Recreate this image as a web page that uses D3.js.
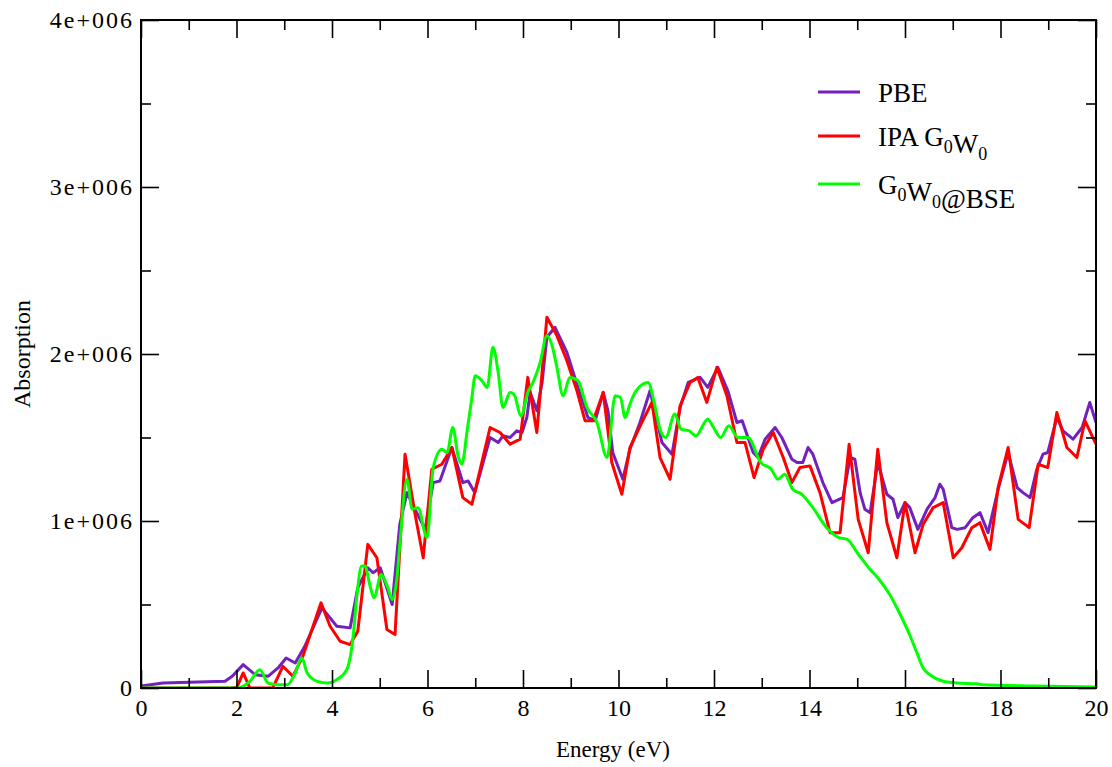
<!DOCTYPE html>
<html>
<head>
<meta charset="utf-8">
<script src="https://cdn.jsdelivr.net/npm/d3@7"></script>
<style>
  html, body { margin: 0; padding: 0; background: #fff; }
  svg { display: block; }
  text { font-family: "Liberation Serif", "DejaVu Serif", serif; fill: #000; }
</style>
</head>
<body>
<svg id="chart" width="1112" height="767"></svg>
<script>
// Absorption values are given in units of 1e6.
const UNIT = 1e6;

// PBE
const pbeEnergy = [0, 0.46, 1.76, 1.91, 2.14, 2.39, 2.66, 2.87, 3.04, 3.23, 3.43, 3.79, 3.96, 4.10, 4.38, 4.54, 4.75, 4.86, 5.01, 5.26,
  5.42, 5.57, 5.74, 5.95, 6.12, 6.26, 6.51, 6.74, 6.85, 6.99, 7.31, 7.48, 7.58, 7.73, 7.87, 7.98, 8.08, 8.15, 8.29, 8.40,
  8.50, 8.67, 8.92, 9.15, 9.36, 9.51, 9.68, 9.78, 9.88, 10.09, 10.24, 10.45, 10.66, 10.91, 11.12, 11.29, 11.46, 11.71, 11.87, 12.08,
  12.29, 12.48, 12.59, 12.82, 12.92, 13.07, 13.28, 13.42, 13.63, 13.74, 13.86, 13.97, 14.07, 14.28, 14.47, 14.70, 14.85, 14.95, 15.06, 15.16,
  15.27, 15.43, 15.62, 15.75, 15.85, 16.00, 16.10, 16.27, 16.46, 16.63, 16.73, 16.80, 16.98, 17.09, 17.26, 17.42, 17.57, 17.74, 17.95, 18.16,
  18.35, 18.47, 18.62, 18.76, 18.89, 18.99, 19.18, 19.31, 19.52, 19.71, 19.87, 20.00];
const pbeAbs = [0.012, 0.03, 0.04, 0.07, 0.14, 0.08, 0.07, 0.12, 0.18, 0.15, 0.25, 0.48, 0.42, 0.37, 0.36, 0.60, 0.72, 0.69, 0.72, 0.50,
  0.98, 1.17, 1.07, 0.95, 1.23, 1.24, 1.44, 1.23, 1.24, 1.17, 1.50, 1.47, 1.51, 1.50, 1.54, 1.53, 1.62, 1.77, 1.66, 1.83,
  2.10, 2.16, 2.01, 1.80, 1.62, 1.60, 1.77, 1.66, 1.41, 1.25, 1.43, 1.59, 1.78, 1.47, 1.40, 1.68, 1.83, 1.86, 1.80, 1.92,
  1.78, 1.59, 1.60, 1.41, 1.38, 1.49, 1.56, 1.50, 1.37, 1.35, 1.35, 1.44, 1.40, 1.23, 1.11, 1.14, 1.38, 1.37, 1.17, 1.07,
  1.05, 1.35, 1.16, 1.13, 1.02, 1.11, 1.08, 0.95, 1.07, 1.14, 1.22, 1.19, 0.96, 0.95, 0.96, 1.02, 1.05, 0.93, 1.19, 1.41,
  1.20, 1.17, 1.14, 1.31, 1.40, 1.41, 1.62, 1.54, 1.49, 1.56, 1.71, 1.59];

// IPA G0W0
const ipaEnergy = [0, 1.90, 2.01, 2.14, 2.28, 2.76, 2.97, 3.18, 3.39, 3.77, 3.96, 4.17, 4.38, 4.54, 4.75, 4.94, 5.15, 5.32, 5.53, 5.74,
  5.91, 6.09, 6.30, 6.51, 6.74, 6.93, 7.31, 7.52, 7.73, 7.94, 8.10, 8.29, 8.50, 8.71, 8.92, 9.13, 9.30, 9.47, 9.68, 9.86,
  10.07, 10.24, 10.49, 10.70, 10.87, 11.08, 11.29, 11.50, 11.66, 11.85, 12.06, 12.27, 12.48, 12.65, 12.84, 13.03, 13.24, 13.45, 13.63, 13.80,
  14.01, 14.22, 14.43, 14.64, 14.83, 15.02, 15.23, 15.43, 15.62, 15.83, 16.00, 16.21, 16.38, 16.59, 16.80, 17.01, 17.19, 17.40, 17.57, 17.78,
  17.95, 18.16, 18.37, 18.60, 18.79, 18.99, 19.18, 19.39, 19.60, 19.77, 20.00];
const ipaAbs = [0, 0, 0.005, 0.09, 0, 0, 0.13, 0.07, 0.19, 0.51, 0.37, 0.28, 0.26, 0.34, 0.86, 0.78, 0.35, 0.32, 1.40, 1.04,
  0.78, 1.31, 1.34, 1.44, 1.14, 1.10, 1.56, 1.53, 1.46, 1.49, 1.86, 1.53, 2.22, 2.11, 1.96, 1.78, 1.60, 1.60, 1.77, 1.35,
  1.16, 1.44, 1.59, 1.71, 1.38, 1.25, 1.69, 1.83, 1.86, 1.71, 1.92, 1.75, 1.47, 1.47, 1.26, 1.43, 1.53, 1.38, 1.23, 1.32,
  1.33, 1.17, 0.93, 0.93, 1.46, 1.01, 0.81, 1.43, 0.99, 0.78, 1.11, 0.81, 0.98, 1.08, 1.11, 0.78, 0.84, 0.96, 0.99, 0.83,
  1.20, 1.44, 1.01, 0.96, 1.34, 1.32, 1.65, 1.44, 1.38, 1.60, 1.46];

// G0W0@BSE
const bseEnergy = [0, 2.00, 2.28, 2.49, 2.66, 2.85, 3.07, 3.23, 3.37, 3.48, 3.69, 3.90, 4.10, 4.31, 4.44, 4.52, 4.62, 4.69, 4.79, 4.88,
  5.03, 5.17, 5.26, 5.36, 5.42, 5.57, 5.68, 5.80, 5.99, 6.12, 6.30, 6.41, 6.53, 6.64, 6.72, 6.83, 6.93, 7.00, 7.14, 7.25,
  7.37, 7.48, 7.58, 7.73, 7.81, 7.96, 8.10, 8.21, 8.36, 8.50, 8.61, 8.71, 8.84, 8.98, 9.15, 9.34, 9.55, 9.76, 9.93, 10.04,
  10.14, 10.24, 10.37, 10.62, 10.74, 10.87, 10.99, 11.18, 11.31, 11.48, 11.62, 11.87, 11.99, 12.14, 12.31, 12.50, 12.71, 12.98, 13.20, 13.34,
  13.48, 13.65, 13.84, 14.07, 14.36, 14.62, 14.79, 15.00, 15.27, 15.43, 15.68, 15.90, 16.11, 16.25, 16.38, 16.52, 16.80, 17.09, 17.51, 17.61,
  18.68, 20.00];
const bseAbs = [0, 0, 0.04, 0.11, 0.03, 0.02, 0.02, 0.09, 0.18, 0.09, 0.04, 0.03, 0.05, 0.11, 0.30, 0.55, 0.73, 0.73, 0.62, 0.54,
  0.68, 0.60, 0.53, 0.66, 0.86, 1.25, 1.07, 1.08, 0.90, 1.32, 1.43, 1.41, 1.56, 1.39, 1.34, 1.54, 1.74, 1.87, 1.84, 1.80,
  2.04, 1.89, 1.68, 1.77, 1.76, 1.63, 1.77, 1.83, 1.95, 2.11, 2.05, 1.92, 1.75, 1.86, 1.84, 1.68, 1.59, 1.38, 1.75, 1.74,
  1.62, 1.70, 1.78, 1.83, 1.72, 1.55, 1.50, 1.64, 1.55, 1.54, 1.51, 1.61, 1.56, 1.50, 1.57, 1.50, 1.50, 1.35, 1.31, 1.25,
  1.28, 1.19, 1.16, 1.08, 0.96, 0.90, 0.89, 0.81, 0.71, 0.66, 0.56, 0.44, 0.31, 0.21, 0.12, 0.08, 0.04, 0.03, 0.025, 0.02,
  0.012, 0.006];

// Axis ticks
const xMajorTicks = [0, 2, 4, 6, 8, 10, 12, 14, 16, 18, 20];
const xMinorTicks = [1, 3, 5, 7, 9, 11, 13, 15, 17, 19];
const yMajorTicks = [0, 1e6, 2e6, 3e6, 4e6];
const yMinorTicks = [0.5e6, 1.5e6, 2.5e6, 3.5e6];
const yTickLabels = ["0", "1e+006", "2e+006", "3e+006", "4e+006"];

const seriesNames = ["PBE", "IPA G0W0", "G0W0@BSE"];
const seriesColors = ["#7221bc", "#ff0000", "#00ff00"];

const plotLeft = 141, plotRight = 1096, plotTop = 20, plotBottom = 688;

const svg = d3.select("#chart");

const x = d3.scaleLinear().domain([0, 20]).range([plotLeft, plotRight]);
const y = d3.scaleLinear().domain([0, 4e6]).range([plotBottom, plotTop]);

svg.append("defs").append("clipPath").attr("id", "plotClip")
  .append("rect").attr("x", plotLeft).attr("y", plotTop)
  .attr("width", plotRight - plotLeft).attr("height", plotBottom - plotTop);

const series = [
  { e: pbeEnergy, a: pbeAbs, curve: d3.curveLinear },
  { e: ipaEnergy, a: ipaAbs, curve: d3.curveLinear },
  { e: bseEnergy, a: bseAbs, curve: d3.curveMonotoneX }
];

const plot = svg.append("g").attr("clip-path", "url(#plotClip)");
series.forEach((s, i) => {
  const line = d3.line().x(d => x(d[0])).y(d => y(d[1] * UNIT)).curve(s.curve);
  plot.append("path")
    .datum(s.e.map((v, k) => [v, s.a[k]]))
    .attr("d", line)
    .attr("fill", "none")
    .attr("stroke", seriesColors[i])
    .attr("stroke-width", 3)
    .attr("stroke-linejoin", "round");
});

// Axes with inward ticks on all four sides
const majorLen = 18, minorLen = 10;
function tickStyle(g) {
  g.select(".domain").remove();
  g.selectAll(".tick line").attr("stroke", "#000").attr("stroke-width", 1.6);
  g.selectAll(".tick text").attr("font-size", 24).attr("fill", "#000")
    .attr("font-family", "'Liberation Serif', serif");
}

svg.append("g").attr("transform", `translate(0,${plotBottom})`)
  .call(d3.axisBottom(x).tickValues(xMajorTicks).tickSize(-majorLen).tickPadding(11).tickFormat(d3.format("d")))
  .call(tickStyle);
svg.append("g").attr("transform", `translate(0,${plotBottom})`)
  .call(d3.axisBottom(x).tickValues(xMinorTicks).tickSize(-minorLen).tickFormat(""))
  .call(tickStyle);
svg.append("g").attr("transform", `translate(0,${plotTop})`)
  .call(d3.axisTop(x).tickValues(xMajorTicks).tickSize(-majorLen).tickFormat(""))
  .call(tickStyle);
svg.append("g").attr("transform", `translate(0,${plotTop})`)
  .call(d3.axisTop(x).tickValues(xMinorTicks).tickSize(-minorLen).tickFormat(""))
  .call(tickStyle);

svg.append("g").attr("transform", `translate(${plotLeft},0)`)
  .call(d3.axisLeft(y).tickValues(yMajorTicks).tickSize(-majorLen).tickPadding(7)
    .tickFormat((d, i) => yTickLabels[i]))
  .call(tickStyle)
  .call(g => g.selectAll(".tick text").attr("letter-spacing", 2));
svg.append("g").attr("transform", `translate(${plotLeft},0)`)
  .call(d3.axisLeft(y).tickValues(yMinorTicks).tickSize(-minorLen).tickFormat(""))
  .call(tickStyle);
svg.append("g").attr("transform", `translate(${plotRight},0)`)
  .call(d3.axisRight(y).tickValues(yMajorTicks).tickSize(-majorLen).tickFormat(""))
  .call(tickStyle);
svg.append("g").attr("transform", `translate(${plotRight},0)`)
  .call(d3.axisRight(y).tickValues(yMinorTicks).tickSize(-minorLen).tickFormat(""))
  .call(tickStyle);

// Frame
svg.append("rect")
  .attr("x", plotLeft).attr("y", plotTop)
  .attr("width", plotRight - plotLeft).attr("height", plotBottom - plotTop)
  .attr("fill", "none").attr("stroke", "#000").attr("stroke-width", 2);

// Axis titles
svg.append("text")
  .attr("x", 613).attr("y", 757)
  .attr("text-anchor", "middle").attr("font-size", 23)
  .text("Energy (eV)");
svg.append("text")
  .attr("transform", `translate(30,${(plotTop + plotBottom) / 2}) rotate(-90)`)
  .attr("text-anchor", "middle").attr("font-size", 24)
  .text("Absorption");

// Legend
const legendY = [92, 136, 184];
const legend = svg.append("g");
seriesNames.forEach((name, i) => {
  legend.append("line")
    .attr("x1", 818).attr("x2", 860)
    .attr("y1", legendY[i]).attr("y2", legendY[i])
    .attr("stroke", seriesColors[i]).attr("stroke-width", 3);
  const t = legend.append("text")
    .attr("x", 878).attr("y", legendY[i] + 10)
    .attr("font-size", 27);
  // A "0" that follows G or W is set as a subscript
  const parts = name.split(/(?<=[GW])0/);
  parts.forEach((p, k) => {
    t.append("tspan").text(p);
    if (k < parts.length - 1) {
      t.append("tspan").attr("font-size", 18).attr("dy", 7).text("0");
      t.append("tspan").attr("dy", -7).text("");
    }
  });
});
</script>
</body>
</html>
